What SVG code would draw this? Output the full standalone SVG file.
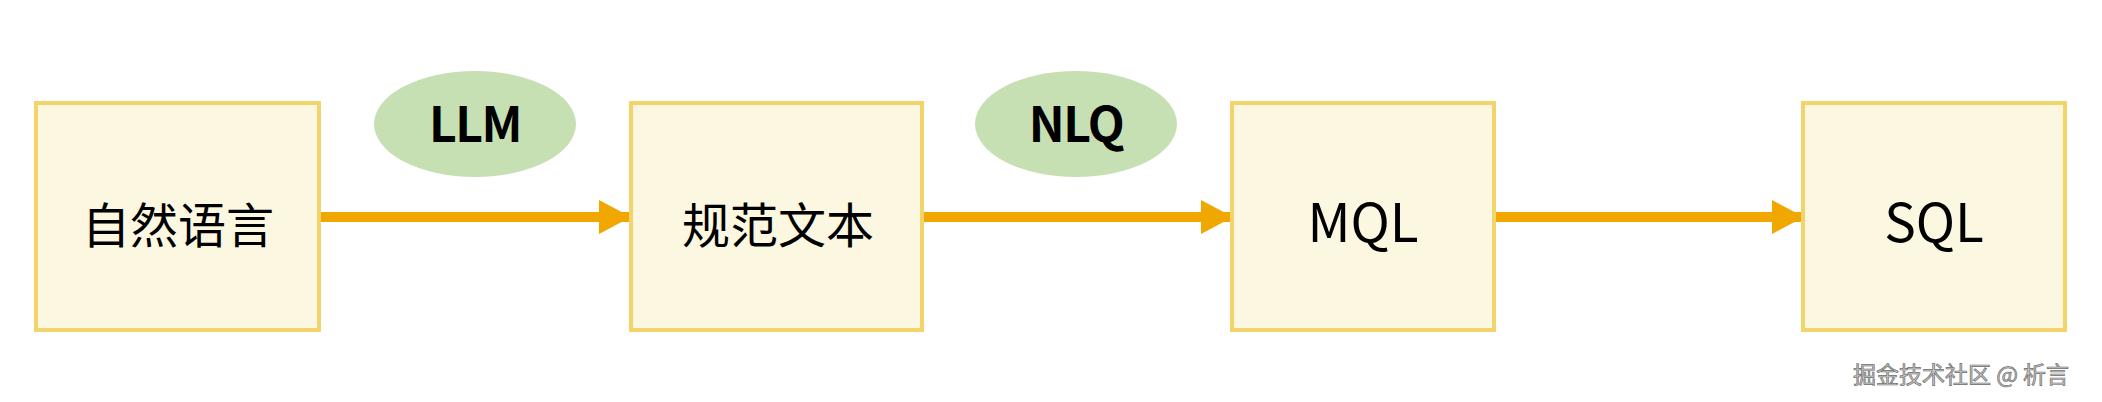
<svg xmlns="http://www.w3.org/2000/svg" width="2102" height="402" viewBox="0 0 2102 402">
<style>
.box{fill:#fcf7e0;stroke:#f2d46b;stroke-width:4}
.oval{fill:#c6e0b4;stroke:none}
.t{font-family:"Noto Sans CJK SC","Noto Sans",sans-serif;fill:#000;text-anchor:middle}
.cn{font-size:48px}
.en{font-size:53px}
.lb{font-size:48px;font-weight:700;letter-spacing:-1.5px}
.edge{stroke:#f0a800;stroke-width:10;fill:none}
.wm{font-family:"Noto Sans CJK SC",sans-serif;font-size:23px;fill:#c8c8c8;stroke:#6e6e6e;stroke-width:0.7}
</style>
<defs>
<marker id="ah" markerUnits="userSpaceOnUse" markerWidth="32" markerHeight="34" refX="32" refY="17" orient="auto">
<path d="M0,0 L32,17 L0,34 Z" fill="#f0a800"/>
</marker>
</defs>
<rect width="2102" height="402" fill="#fff"/>
<g id="connectors">
<line class="edge" x1="320" y1="217" x2="631" y2="217" marker-end="url(#ah)"/>
<line class="edge" x1="922" y1="217" x2="1233" y2="217" marker-end="url(#ah)"/>
<line class="edge" x1="1494" y1="217" x2="1804" y2="217" marker-end="url(#ah)"/>
</g>
<g id="n1"><rect class="box" x="36" y="103" width="283" height="227"/><text class="t cn" x="178" y="243">自然语言</text></g>
<g id="n2"><rect class="box" x="631" y="103" width="291" height="227"/><text class="t cn" x="778" y="243">规范文本</text></g>
<g id="n3"><rect class="box" x="1232" y="103" width="262" height="227"/><text class="t en" x="1363" y="242">MQL</text></g>
<g id="n4"><rect class="box" x="1803" y="103" width="262" height="227"/><text class="t en" x="1934" y="242">SQL</text></g>
<g id="l1"><ellipse class="oval" cx="475" cy="124" rx="101" ry="53"/><text class="t lb" x="475" y="142">LLM</text></g>
<g id="l2"><ellipse class="oval" cx="1076" cy="124" rx="101" ry="53"/><text class="t lb" x="1076" y="142">NLQ</text></g>
<text class="wm" x="1853" y="383">掘金技术社区 @ 析言</text>
</svg>
